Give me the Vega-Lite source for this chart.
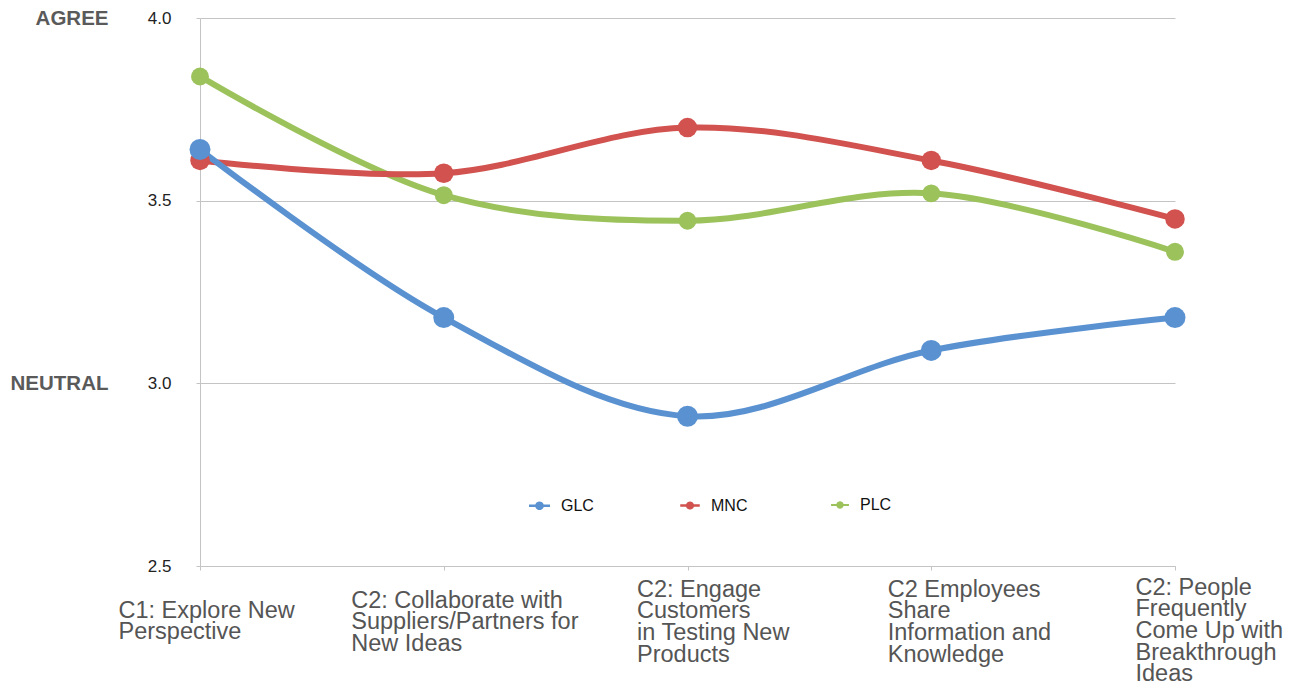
{
  "$schema": "https://vega.github.io/schema/vega-lite/v6.json",
  "autosize": {"type": "none"},
  "padding": {"left": 200, "top": 18, "right": 122, "bottom": 116},
  "width": 975,
  "height": 548,
  "background": "white",
  "config": {
    "view": {"stroke": null},
    "font": "Liberation Sans"
  },
  "data": {
    "values": [
      {"cat": "C1: Explore New|Perspective", "series": "PLC", "score": 3.84},
      {"cat": "C2: Collaborate with|Suppliers/Partners for|New Ideas", "series": "PLC", "score": 3.515},
      {"cat": "C2: Engage|Customers|in Testing New|Products", "series": "PLC", "score": 3.445},
      {"cat": "C2 Employees|Share|Information and|Knowledge", "series": "PLC", "score": 3.52},
      {"cat": "C2: People|Frequently|Come Up with|Breakthrough|Ideas", "series": "PLC", "score": 3.36},
      {"cat": "C1: Explore New|Perspective", "series": "MNC", "score": 3.61},
      {"cat": "C2: Collaborate with|Suppliers/Partners for|New Ideas", "series": "MNC", "score": 3.575},
      {"cat": "C2: Engage|Customers|in Testing New|Products", "series": "MNC", "score": 3.70},
      {"cat": "C2 Employees|Share|Information and|Knowledge", "series": "MNC", "score": 3.61},
      {"cat": "C2: People|Frequently|Come Up with|Breakthrough|Ideas", "series": "MNC", "score": 3.45},
      {"cat": "C1: Explore New|Perspective", "series": "GLC", "score": 3.64},
      {"cat": "C2: Collaborate with|Suppliers/Partners for|New Ideas", "series": "GLC", "score": 3.18},
      {"cat": "C2: Engage|Customers|in Testing New|Products", "series": "GLC", "score": 2.91},
      {"cat": "C2 Employees|Share|Information and|Knowledge", "series": "GLC", "score": 3.09},
      {"cat": "C2: People|Frequently|Come Up with|Breakthrough|Ideas", "series": "GLC", "score": 3.18}
    ]
  },
  "encoding": {
    "x": {
      "field": "cat",
      "type": "nominal",
      "sort": null,
      "scale": {"type": "point", "padding": 0},
      "axis": {
        "title": null,
        "labelExpr": "split(datum.label, '|')",
        "labelAngle": 0,
        "labelAlign": "left",
        "labelBaseline": "middle",
        "labelFont": "Liberation Sans",
        "labelFontSize": 23.5,
        "labelLineHeight": 21.7,
        "labelColor": "#555555",
        "labelLimit": 400,
        "labelOverlap": false,
        "labelBound": false,
        "labelFlush": false,
        "labelOffset": {
          "condition": [
            {"test": "indexof(datum.label, 'C1') == 0", "value": -82},
            {"test": "indexof(datum.label, 'Collaborate') >= 0", "value": -93},
            {"test": "indexof(datum.label, 'Engage') >= 0", "value": -51},
            {"test": "indexof(datum.label, 'Employees') >= 0", "value": -44}
          ],
          "value": -40
        },
        "labelPadding": {
          "condition": [
            {"test": "indexof(datum.label, 'C1') == 0", "value": 40},
            {"test": "indexof(datum.label, 'Collaborate') >= 0", "value": 30},
            {"test": "indexof(datum.label, 'People') >= 0", "value": 17}
          ],
          "value": 19
        },
        "ticks": true,
        "tickSize": 4,
        "tickColor": "#c4c4c4",
        "domainColor": "#c4c4c4",
        "grid": false
      }
    },
    "y": {
      "field": "score",
      "type": "quantitative",
      "scale": {"domain": [2.5, 4.0], "nice": false, "zero": false}
    }
  },
  "layer": [
    {
      "mark": {"type": "line", "interpolate": "catmull-rom", "strokeWidth": 6},
      "encoding": {
        "y": {
          "field": "score",
          "type": "quantitative",
          "axis": {
            "title": null,
            "values": [2.5, 3.0, 3.5, 4.0],
            "format": ".1f",
            "labelFont": "Liberation Sans",
            "labelFontSize": 17,
            "labelColor": "#222222",
            "labelPadding": 25,
            "tickSize": 4,
            "tickColor": "#c4c4c4",
            "domainColor": "#c4c4c4",
            "grid": true,
            "gridColor": "#c4c4c4",
            "gridWidth": 1
          }
        },
        "color": {
          "field": "series",
          "type": "nominal",
          "scale": {"domain": ["GLC", "MNC", "PLC"], "range": ["#5a92d1", "#d1524e", "#9cc25c"]},
          "legend": {
            "title": null,
            "orient": "none",
            "direction": "horizontal",
            "legendX": 329,
            "legendY": 477,
            "gridAlign": "all",
            "columnPadding": 83,
            "labelFont": "Liberation Sans",
            "labelFontSize": 16,
            "labelColor": "#111111",
            "labelOffset": 11,
            "symbolType": "M-1,-0.12L-0.4,-0.12A0.42,0.42,0,0,1,0.4,-0.12L1,-0.12L1,0.12L0.4,0.12A0.42,0.42,0,0,1,-0.4,0.12L-1,0.12Z",
            "symbolSize": 190,
            "symbolStrokeWidth": 0
          }
        }
      }
    },
    {
      "mark": {"type": "circle", "opacity": 1},
      "encoding": {
        "y": {
          "field": "score",
          "type": "quantitative",
          "axis": {
            "title": null,
            "orient": "left",
            "values": [3.0, 4.0],
            "labelExpr": "datum.value == 4 ? 'AGREE' : 'NEUTRAL'",
            "labelFont": "Liberation Sans",
            "labelFontSize": 20.5,
            "labelFontWeight": "bold",
            "labelColor": "#5a5a5a",
            "labelPadding": 0,
            "ticks": false,
            "domain": false,
            "grid": false,
            "offset": 92
          }
        },
        "color": {"field": "series", "type": "nominal"},
        "size": {
          "field": "series",
          "type": "nominal",
          "scale": {"domain": ["GLC", "MNC", "PLC"], "range": [440, 320, 530]},
          "legend": null
        }
      }
    }
  ],
  "resolve": {"axis": {"y": "independent"}}
}
